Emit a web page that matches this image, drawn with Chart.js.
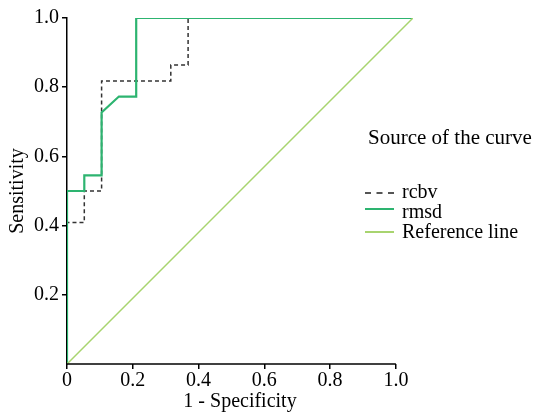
<!DOCTYPE html>
<html>
<head>
<meta charset="utf-8">
<script src="https://cdn.jsdelivr.net/npm/chart.js@4.4.1/dist/chart.umd.min.js"></script>
<style>
  body { margin: 0; background: #fff; }
  #wrap { position: relative; width: 547px; height: 416px; }
  .lg { position: absolute; font-family: "Liberation Serif", serif; font-size: 20px; color: #000; white-space: nowrap; line-height: 20px; }
  .sw { position: absolute; width: 29px; height: 0; }
</style>
</head>
<body>
<div id="wrap">
  <canvas id="roc" width="547" height="416"></canvas>
  <div class="lg" style="left:368px; top:127px; font-size:21px;">Source of the curve</div>
  <div class="sw" style="left:365px; top:192px; border-top:2px dashed #555;"></div>
  <div class="lg" style="left:402px; top:181px;">rcbv</div>
  <div class="sw" style="left:365px; top:208px; border-top:2px solid #2db470;"></div>
  <div class="lg" style="left:402px; top:201px;">rmsd</div>
  <div class="sw" style="left:365px; top:231px; border-top:2px solid #a8d46f;"></div>
  <div class="lg" style="left:402px; top:221px;">Reference line</div>
</div>
<script>
// ROC curve data (1 - specificity, sensitivity)
const rcbvX = [0, 0, 0.05, 0.05, 0.1, 0.1, 0.3, 0.3, 0.35, 0.35, 1.0];
const rcbvY = [0, 0.409, 0.409, 0.5, 0.5, 0.818, 0.818, 0.864, 0.864, 1.0, 1.0];

const rmsdX = [0, 0, 0.05, 0.05, 0.1, 0.1, 0.15, 0.2, 0.2, 1.0];
const rmsdY = [0, 0.5, 0.5, 0.545, 0.545, 0.727, 0.773, 0.773, 1.0, 1.0];

const refX = [0, 1];
const refY = [0, 1];

const xTicks = [0, 0.2, 0.4, 0.6, 0.8, 1.0];
const yTicks = [0.2, 0.4, 0.6, 0.8, 1.0];

const toPoints = (xs, ys) => xs.map((x, i) => ({ x: x, y: ys[i] }));

const serif = { family: '"Liberation Serif", "Times New Roman", serif', size: 20 };

// bottom axis line only runs from 0 to 1.0 of the visible tick axis
const bottomLine = {
    id: 'bottomLine',
    afterDraw(chart) {
        const s = chart.scales.x2;
        const c = chart.ctx;
        c.save();
        c.strokeStyle = '#000';
        c.lineWidth = 1.5;
        c.beginPath();
        c.moveTo(s.getPixelForValue(0) - 0.75, s.top);
        c.lineTo(s.getPixelForValue(1), s.top);
        c.stroke();
        c.restore();
    }
};

const ctx = document.getElementById('roc').getContext('2d');
const rocChart = new Chart(ctx, {
    type: 'line',
    data: {
        datasets: [{
            label: 'Reference line',
            data: toPoints(refX, refY),
            borderColor: '#a8d46f',
            borderWidth: 1.5,
            pointRadius: 0,
            fill: false
        }, {
            label: 'rmsd',
            data: toPoints(rmsdX, rmsdY),
            borderColor: '#2db470',
            borderWidth: 2.2,
            pointRadius: 0,
            fill: false
        }, {
            label: 'rcbv',
            data: toPoints(rcbvX, rcbvY),
            borderColor: '#333',
            borderWidth: 1.5,
            borderDash: [4, 3],
            pointRadius: 0,
            fill: false
        }]
    },
    plugins: [bottomLine],
    options: {
        responsive: false,
        animation: false,
        layout: { padding: { top: 18, right: 134, left: 0, bottom: 0 } },
        plugins: {
            legend: { display: false },
            tooltip: { enabled: false }
        },
        scales: {
            x: {
                type: 'linear',
                min: 0,
                max: 1,
                display: false
            },
            // visible axis: the original's tick marks are slightly compressed vs the data
            x2: {
                type: 'linear',
                position: 'bottom',
                min: 0,
                max: 1.052,
                afterBuildTicks: axis => { axis.ticks = xTicks.map(v => ({ value: v })); },
                afterFit: axis => { axis.height = 52; },
                ticks: {
                    color: '#000',
                    font: serif,
                    padding: 0,
                    maxRotation: 0,
                    callback: v => v === 0 ? '0' : v.toFixed(1)
                },
                grid: { drawOnChartArea: false, tickLength: 5, color: '#000', lineWidth: 1.5 },
                border: { display: false },
                title: { display: true, text: '1 - Specificity', color: '#000', font: serif, padding: { top: 0, bottom: 2 } }
            },
            y: {
                min: 0,
                max: 1,
                afterBuildTicks: axis => { axis.ticks = yTicks.map(v => ({ value: v })); },
                afterFit: axis => { axis.width = 67; },
                ticks: {
                    color: '#000',
                    font: serif,
                    padding: 3,
                    callback: v => v.toFixed(1)
                },
                grid: { drawOnChartArea: false, tickLength: 5, color: '#000', lineWidth: 1.5 },
                border: { color: '#000', width: 1.5 },
                title: { display: true, text: 'Sensitivity', color: '#000', font: serif, padding: { top: 6, bottom: 4 } }
            }
        }
    }
});
</script>
</body>
</html>
